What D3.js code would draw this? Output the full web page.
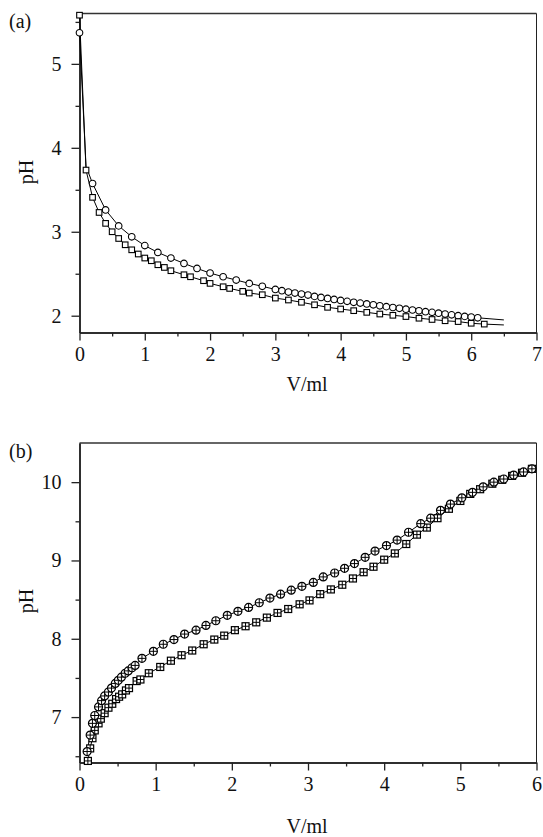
<!DOCTYPE html>
<html>
<head>
<meta charset="utf-8">
<script src="https://cdn.jsdelivr.net/npm/d3@7"></script>
<style>
  body { margin: 0; background: #fff; }
  text { font-family: "Liberation Serif", "Times New Roman", Times, serif; fill: #111; }
</style>
</head>
<body>
<div id="chart"></div>
<script>
"use strict";

// ---- panel (a) data ----
const aCircV  = [0, 0.2, 0.4, 0.6, 0.8, 1.0, 1.2, 1.4, 1.6, 1.8, 2.0, 2.2, 2.4, 2.6, 2.8, 3.0,
                 3.1, 3.2, 3.3, 3.4, 3.5, 3.6, 3.7, 3.8, 3.9, 4.0, 4.1, 4.2, 4.3, 4.4, 4.5,
                 4.6, 4.7, 4.8, 4.9, 5.0, 5.1, 5.2, 5.3, 5.4, 5.5, 5.6, 5.7, 5.8, 5.9, 6.0, 6.1];
const aCircPH = [5.37, 3.575, 3.26, 3.07, 2.94, 2.835, 2.754, 2.687, 2.623, 2.563, 2.508, 2.464, 2.425, 2.385, 2.35, 2.313,
                 2.298, 2.282, 2.27, 2.258, 2.246, 2.23, 2.218, 2.206, 2.194, 2.182, 2.171, 2.16, 2.15, 2.14, 2.13,
                 2.118, 2.108, 2.098, 2.088, 2.078, 2.068, 2.058, 2.048, 2.04, 2.03, 2.02, 2.01, 2.0, 1.992, 1.984, 1.975];
const aSqV    = [0, 0.1, 0.2, 0.3, 0.4, 0.5, 0.6, 0.7, 0.8, 0.9, 1.0, 1.1, 1.2, 1.3, 1.4, 1.6, 1.7, 1.9, 2.0,
                 2.2, 2.3, 2.5, 2.6, 2.8, 3.0, 3.2, 3.4, 3.6, 3.8, 4.0, 4.2, 4.4, 4.6, 4.8, 5.0, 5.2, 5.4, 5.6, 5.8, 6.0, 6.2];
const aSqPH   = [5.58, 3.735, 3.41, 3.23, 3.10, 3.0, 2.92, 2.845, 2.785, 2.735, 2.687, 2.655, 2.607, 2.575, 2.536, 2.488, 2.464, 2.417, 2.385,
                 2.345, 2.325, 2.29, 2.27, 2.25, 2.21, 2.187, 2.16, 2.13, 2.10, 2.08, 2.06, 2.04, 2.02, 2.005, 1.99, 1.97, 1.955, 1.94, 1.93, 1.91, 1.90];
// extra points of the fitted curves (start and tail to 6.5 ml)
const aCircFitV  = [0.1, 6.5];
const aCircFitPH = [3.78, 1.95];
const aSqFitV    = [6.5];
const aSqFitPH   = [1.89];

// ---- panel (b) data ----
const bCircV  = [0.10, 0.14, 0.17, 0.20, 0.25, 0.29, 0.33, 0.38, 0.42, 0.47, 0.51, 0.55, 0.60, 0.64, 0.69, 0.73, 0.82, 0.97,
                 1.10, 1.24, 1.38, 1.53, 1.66, 1.79, 1.94, 2.08, 2.22, 2.36, 2.50, 2.64, 2.78, 2.92, 3.07, 3.20, 3.35, 3.48,
                 3.61, 3.75, 3.88, 4.03, 4.17, 4.32, 4.48, 4.61, 4.74, 4.87, 5.02, 5.16, 5.30, 5.44, 5.57, 5.70, 5.83, 5.94];
const bCircPH = [6.56, 6.77, 6.92, 7.02, 7.13, 7.21, 7.27, 7.32, 7.37, 7.43, 7.47, 7.51, 7.56, 7.59, 7.63, 7.66, 7.75, 7.84,
                 7.93, 7.99, 8.06, 8.11, 8.17, 8.23, 8.30, 8.35, 8.40, 8.46, 8.52, 8.57, 8.62, 8.67, 8.72, 8.79, 8.84, 8.90,
                 8.96, 9.04, 9.12, 9.19, 9.26, 9.36, 9.47, 9.54, 9.64, 9.72, 9.80, 9.87, 9.94, 10.0, 10.04, 10.09, 10.13, 10.17];
const bSqV    = [0.11, 0.14, 0.17, 0.20, 0.25, 0.28, 0.33, 0.38, 0.43, 0.48, 0.52, 0.56, 0.61, 0.65, 0.75, 0.80, 0.91, 1.06,
                 1.20, 1.34, 1.48, 1.63, 1.77, 1.90, 2.04, 2.18, 2.32, 2.46, 2.60, 2.74, 2.89, 3.02, 3.16, 3.30, 3.45, 3.59,
                 3.73, 3.86, 4.00, 4.14, 4.29, 4.43, 4.56, 4.70, 4.85, 5.00, 5.13, 5.26, 5.42, 5.55, 5.68, 5.81, 5.94];
const bSqPH   = [6.44, 6.60, 6.73, 6.83, 6.92, 6.98, 7.05, 7.12, 7.17, 7.23, 7.26, 7.29, 7.34, 7.37, 7.46, 7.48, 7.56, 7.64,
                 7.72, 7.79, 7.85, 7.93, 7.99, 8.04, 8.11, 8.16, 8.21, 8.27, 8.33, 8.38, 8.44, 8.49, 8.57, 8.63, 8.69, 8.77,
                 8.85, 8.92, 9.01, 9.09, 9.21, 9.33, 9.42, 9.54, 9.66, 9.76, 9.85, 9.91, 9.98, 10.03, 10.08, 10.12, 10.17];

// ---- ticks ----
const aXTicks = [0, 1, 2, 3, 4, 5, 6, 7];
const aXMinor = [0.5, 1.5, 2.5, 3.5, 4.5, 5.5, 6.5];
const aYTicks = [2, 3, 4, 5];
const aYMinor = [2.5, 3.5, 4.5, 5.5];
const bXTicks = [0, 1, 2, 3, 4, 5, 6];
const bXMinor = [0.5, 1.5, 2.5, 3.5, 4.5, 5.5];
const bYTicks = [7, 8, 9, 10];
const bYMinor = [6.5, 7.5, 8.5, 9.5];

const W = 543, H = 837;
const svg = d3.select("#chart").append("svg")
  .attr("width", W).attr("height", H);

const zip = (xs, ys) => xs.map((v, i) => ({v: v, ph: ys[i]}));

function drawPanel(p) {
  const x = d3.scaleLinear().domain(p.xDomain).range([79.5, 536.5]);
  const y = d3.scaleLinear().domain(p.yDomain).range([p.bottom, p.top]);
  const g = svg.append("g");

  // frame: top and right
  g.append("line").attr("x1", 79.5).attr("x2", 536.5).attr("y1", p.top).attr("y2", p.top)
    .attr("stroke", "#333").attr("stroke-width", 1.5);
  g.append("line").attr("x1", 536.5).attr("x2", 536.5).attr("y1", p.top).attr("y2", p.bottom)
    .attr("stroke", "#222").attr("stroke-width", 1);

  // axes: major + minor
  g.append("g").attr("transform", "translate(0," + p.bottom + ")")
    .call(d3.axisBottom(x).tickValues(p.xTicks).tickSize(8).tickSizeOuter(0).tickPadding(6).tickFormat(d3.format("d")));
  g.append("g").attr("transform", "translate(0," + p.bottom + ")")
    .call(d3.axisBottom(x).tickValues(p.xMinor).tickSize(4).tickSizeOuter(0).tickFormat(""));
  g.append("g").attr("transform", "translate(79.5,0)")
    .call(d3.axisLeft(y).tickValues(p.yTicks).tickSize(8).tickSizeOuter(0).tickPadding(10).tickFormat(d3.format("d")));
  g.append("g").attr("transform", "translate(79.5,0)")
    .call(d3.axisLeft(y).tickValues(p.yMinor).tickSize(4).tickSizeOuter(0).tickFormat(""));

  g.selectAll(".domain").attr("stroke", "#222").attr("stroke-width", 1.5);
  g.selectAll(".tick line").attr("stroke", "#222").attr("stroke-width", 1.3);
  g.selectAll(".tick text").attr("font-size", 20).attr("fill", "#111");

  // curves
  const line = d3.line().x(d => x(d.v)).y(d => y(d.ph));
  p.curves.forEach(c => {
    g.append("path").datum(c.sort((a, b) => a.v - b.v))
      .attr("fill", "none").attr("stroke", "#000").attr("stroke-width", 1)
      .attr("d", line);
  });

  // markers
  p.series.forEach(s => {
    const m = g.append("g").selectAll("g").data(s.data).join("g")
      .attr("transform", d => "translate(" + x(d.v) + "," + y(d.ph) + ")");
    const r = s.size;
    if (s.shape === "circle") {
      m.append("circle").attr("r", r).attr("fill", "#fff").attr("stroke", "#000").attr("stroke-width", s.sw);
    } else {
      m.append("rect").attr("x", -r).attr("y", -r).attr("width", 2 * r).attr("height", 2 * r)
        .attr("fill", "#fff").attr("stroke", "#000").attr("stroke-width", s.sw);
    }
    if (s.cross) {
      m.append("path").attr("d", "M" + (-r) + ",0H" + r + "M0," + (-r) + "V" + r)
        .attr("stroke", "#000").attr("stroke-width", 1);
    }
  });

  // labels
  g.append("text").attr("x", 307).attr("y", p.xLabelY).attr("text-anchor", "middle")
    .attr("font-size", 20).text("V/ml");
  g.append("text").attr("transform", "translate(" + 33 + "," + p.yLabelY + ") rotate(-90)")
    .attr("text-anchor", "middle").attr("font-size", 20).text("pH");
  g.append("text").attr("x", 9).attr("y", p.tagY).attr("font-size", 20).text(p.tag);
}

drawPanel({
  xDomain: [0, 7], yDomain: [1.8, 5.6], top: 13.5, bottom: 332.5,
  xTicks: aXTicks, xMinor: aXMinor, yTicks: aYTicks, yMinor: aYMinor,
  curves: [
    zip(aCircV, aCircPH).concat(zip(aCircFitV, aCircFitPH)),
    zip(aSqV, aSqPH).concat(zip(aSqFitV, aSqFitPH))
  ],
  series: [
    {data: zip(aCircV, aCircPH), shape: "circle", size: 3.3, sw: 1.1, cross: false},
    {data: zip(aSqV, aSqPH), shape: "square", size: 2.8, sw: 1.1, cross: false}
  ],
  xLabelY: 391, yLabelY: 172, tag: "(a)", tagY: 28
});

drawPanel({
  xDomain: [0, 6], yDomain: [6.42, 10.5], top: 443, bottom: 762.5,
  xTicks: bXTicks, xMinor: bXMinor, yTicks: bYTicks, yMinor: bYMinor,
  curves: [zip(bCircV, bCircPH), zip(bSqV, bSqPH)],
  series: [
    {data: zip(bSqV, bSqPH), shape: "square", size: 3.5, sw: 1.2, cross: true},
    {data: zip(bCircV, bCircPH), shape: "circle", size: 4, sw: 1.2, cross: true}
  ],
  xLabelY: 833, yLabelY: 601, tag: "(b)", tagY: 458
});
</script>
</body>
</html>
